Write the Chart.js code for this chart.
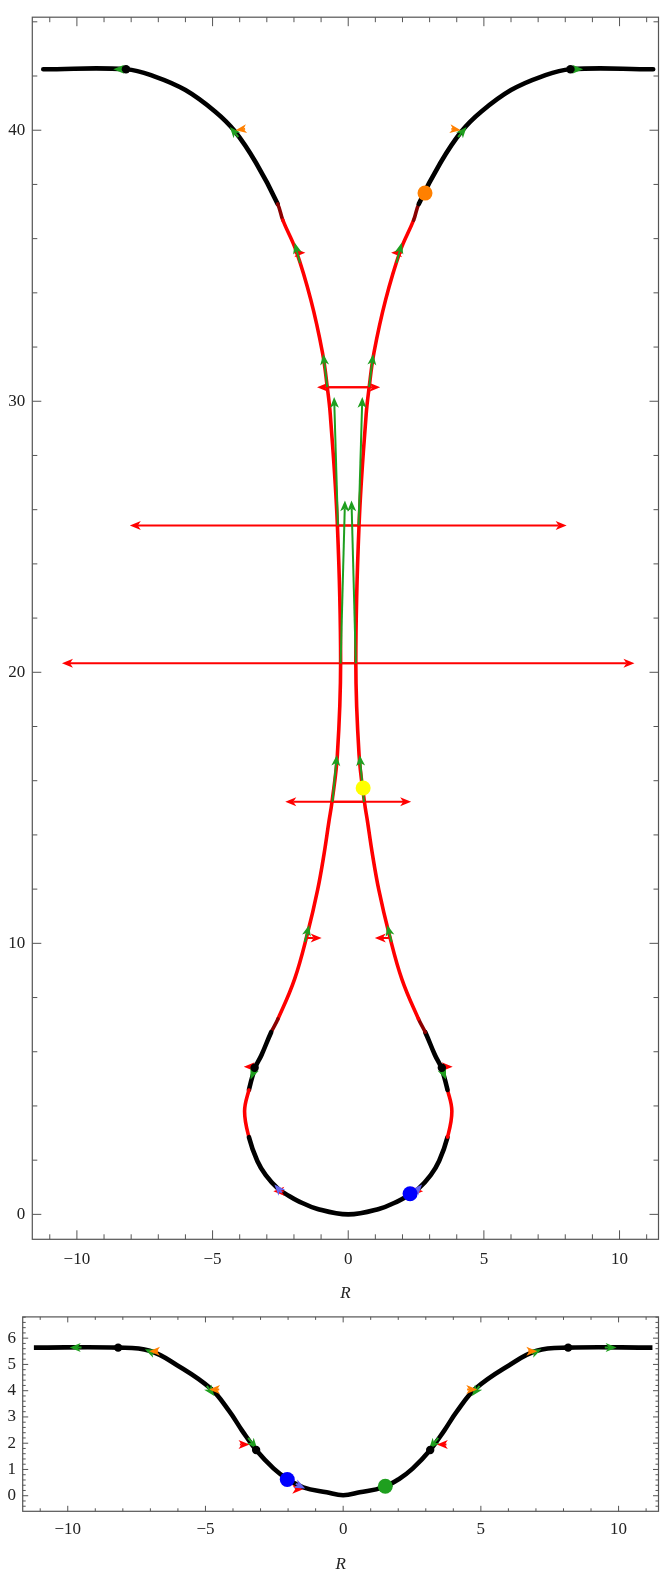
<!DOCTYPE html>
<html><head><meta charset="utf-8">
<script src="https://cdn.jsdelivr.net/npm/chart.js@4.4.1/dist/chart.umd.min.js"></script>
<style>
html,body{margin:0;padding:0;background:#fff;}
body{width:666px;height:1579px;position:relative;overflow:hidden;}
canvas{position:absolute;left:0;}
#c1{top:0;} #c2{top:1300px;}
</style></head><body>
<canvas id="c1" width="666" height="1310"></canvas>
<canvas id="c2" width="666" height="279"></canvas>
<script>
// ---------- data: top chart ----------
const topCurveX = [-11.24,-8.19,-7.1,-6.0,-4.91,-4.18,-3.4,-2.6,-2.41,-1.92,-1.38,-0.95,-0.77,-0.66,-0.40,-0.28,-0.40,-0.6,-0.71,-0.89,-1.13,-1.5,-1.98,-2.59,-2.84,-3.2,-3.43,-3.66,-3.82,-3.66,-3.35,-3.04,-2.58,-2.25,-1.86,-1.13,0,
  1.13,1.86,2.25,2.58,3.04,3.35,3.66,3.82,3.66,3.43,3.2,2.84,2.59,1.98,1.5,1.13,0.89,0.71,0.6,0.40,0.28,0.40,0.66,0.77,0.95,1.38,1.92,2.41,2.6,3.4,4.18,4.91,6.0,7.1,8.19,11.24];
const topCurveY = [42.25,42.25,41.97,41.48,40.69,39.96,38.8,37.28,36.68,35.55,33.75,31.8,30.5,29.5,25.45,20.35,16.95,15.2,14.5,13.3,11.96,10.37,8.67,7.21,6.72,5.87,5.41,4.59,3.8,2.85,1.97,1.45,0.94,0.72,0.5,0.2,0,
  0.2,0.5,0.72,0.94,1.45,1.97,2.85,3.8,4.59,5.41,5.87,6.72,7.21,8.67,10.37,11.96,13.3,14.5,15.2,16.95,20.35,25.45,29.5,30.5,31.8,33.75,35.55,36.68,37.28,38.8,39.96,40.69,41.48,41.97,42.25,42.25];
const topXTicks = [-10,-5,0,5,10];
const topYTicks = [0,10,20,30,40];
const topBlackDots = [[-8.19,42.25],[8.19,42.25],[-3.45,5.41],[3.45,5.41]];
const topOrangeDots = [[2.83,37.68]];
const topYellowDots = [[0.55,15.73]];
const topBlueDots = [[2.28,0.76]];
// arrows: [x1, y1, x2(tip), y2(tip)]
const topGreenArrows = [
  [-8.19,42.25,-8.66,42.25],[8.19,42.25,8.66,42.25],
  [-4.05,39.75,-4.36,40.12],[4.05,39.75,4.36,40.12],
  [-1.78,35.1,-1.97,35.85],[1.78,35.1,1.97,35.85],
  [-0.77,30.52,-0.92,31.74],[0.77,30.52,0.92,31.74],
  [-0.38,25.42,-0.52,30.16],[0.38,25.42,0.52,30.16],
  [-0.28,20.33,-0.12,26.34],[0.28,20.33,0.12,26.34],
  [-0.58,15.22,-0.42,16.95],[0.58,15.22,0.42,16.95],
  [-1.6,10.05,-1.44,10.68],[1.6,10.05,1.44,10.68],
  [-3.43,5.41,-3.6,4.98],[3.43,5.41,3.6,4.98]];
const topRedArrows = [
  [-1.98,35.48,-1.58,35.48],[1.98,35.48,1.58,35.48],
  [-0.77,30.52,1.18,30.52],[0.77,30.52,-1.15,30.52],
  [-0.38,25.42,8.05,25.42],[0.38,25.42,-8.05,25.42],
  [-0.28,20.33,10.55,20.33],[0.28,20.33,-10.55,20.33],
  [-0.58,15.22,2.32,15.22],[0.58,15.22,-2.32,15.22],
  [-1.5,10.2,-0.98,10.2],[1.5,10.2,0.98,10.2],
  [-3.4,5.45,-3.85,5.45],[3.4,5.45,3.85,5.45],
  [-2.38,0.85,-2.76,0.85],[2.38,0.85,2.76,0.85]];
const topOrangeArrows = [[-3.8,40.05,-4.15,40.0],[3.8,40.05,4.15,40.0]];
const topSlateArrows = [[-2.45,0.8,-2.72,1.1],[2.45,0.8,2.72,1.1]];

// ---------- data: bottom chart ----------
const botCurveX = [-11.23,-8.17,-7.03,-6.03,-4.81,-4.13,-3.67,-3.16,-2.52,-2.02,-1.45,-0.6,0,0.6,1.45,2.02,2.52,3.16,3.67,4.13,4.81,6.03,7.03,8.17,11.23];
const botCurveY = [5.64,5.64,5.52,4.97,4.08,3.21,2.48,1.74,1.03,0.63,0.32,0.13,0.02,0.13,0.32,0.63,1.03,1.74,2.48,3.21,4.08,4.97,5.52,5.64,5.64];
const botXTicks = [-10,-5,0,5,10];
const botYTicks = [0,1,2,3,4,5,6];
const botBlackDots = [[-8.17,5.64],[8.17,5.64],[-3.16,1.74],[3.16,1.74]];
const botBlueDots = [[-2.03,0.62]];
const botGreenDots = [[1.53,0.36]];
const botGreenArrows = [
  [-9.5,5.64,-9.93,5.64],[9.5,5.64,9.93,5.64],
  [-6.85,5.42,-7.2,5.58],[6.85,5.42,7.2,5.58],
  [-4.95,4.18,-4.68,3.8],[4.95,4.18,4.68,3.8],
  [-3.45,2.2,-3.12,1.78],[3.45,2.2,3.12,1.78]];
const botOrangeArrows = [[-6.72,5.5,-7.05,5.5],[6.72,5.5,7.05,5.5],[-4.5,4.05,-4.87,4.05],[4.5,4.05,4.87,4.05]];
const botRedArrows = [[-3.75,1.95,-3.4,1.95],[3.75,1.95,3.4,1.95],[-1.75,0.25,-1.45,0.25]];
const botSlateArrows = [[-1.72,0.45,-1.38,0.28]];

// ---------- styles ----------
const GREEN = '#1f9f1f', RED = '#ff0000', ORANGE = '#ff8000', SLATE = '#6464f0', DARKRED = '#8b0000';
const FONT = "'Liberation Serif','Times New Roman',serif";
const pts = (xs, ys) => xs.map((x, i) => ({x, y: ys[i]}));
const pairPts = arr => arr.map(p => ({x: p[0], y: p[1]}));
const fmt = v => v < 0 ? '\u2212' + Math.abs(v) : String(v);

function drawArrow(ctx, xs, ys, a, color, lw) {
  const x1 = xs.getPixelForValue(a[0]), y1 = ys.getPixelForValue(a[1]);
  const x2 = xs.getPixelForValue(a[2]), y2 = ys.getPixelForValue(a[3]);
  const ang = Math.atan2(y2 - y1, x2 - x1);
  const c = Math.cos(ang), s = Math.sin(ang);
  const L = 11, W = 4.5, N = 3;
  const d = Math.hypot(x2 - x1, y2 - y1);
  ctx.strokeStyle = color; ctx.fillStyle = color; ctx.lineWidth = lw;
  if (d > L - N) {
    ctx.beginPath(); ctx.moveTo(x1, y1);
    ctx.lineTo(x2 - c * (L - N), y2 - s * (L - N)); ctx.stroke();
  }
  ctx.beginPath();
  ctx.moveTo(x2, y2);
  ctx.lineTo(x2 - c * L - s * W, y2 - s * L + c * W);
  ctx.lineTo(x2 - c * (L - N), y2 - s * (L - N));
  ctx.lineTo(x2 - c * L + s * W, y2 - s * L - c * W);
  ctx.closePath(); ctx.fill();
}

function arrowPlugin(sets, curveIndex) {
  return {
    id: 'arrows',
    afterDatasetDraw(chart, args) {
      if (args.index !== curveIndex) return;
      const {ctx, chartArea: a, scales: {x, y}} = chart;
      ctx.save();
      ctx.beginPath(); ctx.rect(a.left, a.top, a.right - a.left, a.bottom - a.top); ctx.clip();
      ctx.lineCap = 'butt';
      sets.forEach(st => st.list.forEach(ar => drawArrow(ctx, x, y, ar, st.color, st.lw)));
      ctx.restore();
    }
  };
}

function framePlugin(cfg) {
  return {
    id: 'frame',
    afterDraw(chart) {
      const {ctx, chartArea: a, scales: {x, y}} = chart;
      ctx.save();
      ctx.strokeStyle = '#555'; ctx.lineWidth = 1.2;
      ctx.strokeRect(a.left, a.top, a.right - a.left, a.bottom - a.top);
      ctx.lineWidth = 1;
      const isMajor = (v, m) => Math.abs(v / m - Math.round(v / m)) < 1e-6;
      for (let v = Math.ceil(x.min / cfg.xMinor) * cfg.xMinor; v <= x.max + 1e-9; v += cfg.xMinor) {
        const vv = Math.round(v * 1000) / 1000;
        const px = x.getPixelForValue(vv);
        const len = isMajor(vv, cfg.xMajor) ? cfg.xMajLen : cfg.xMinLen;
        ctx.beginPath();
        ctx.moveTo(px, a.bottom); ctx.lineTo(px, a.bottom - len);
        ctx.moveTo(px, a.top); ctx.lineTo(px, a.top + len);
        ctx.stroke();
      }
      for (let v = Math.ceil(y.min / cfg.yMinor) * cfg.yMinor; v <= y.max + 1e-9; v += cfg.yMinor) {
        const vv = Math.round(v * 1000) / 1000;
        const py = y.getPixelForValue(vv);
        const len = isMajor(vv, cfg.yMajor) ? cfg.yMajLen : cfg.yMinLen;
        ctx.beginPath();
        ctx.moveTo(a.left, py); ctx.lineTo(a.left + len, py);
        ctx.moveTo(a.right, py); ctx.lineTo(a.right - len, py);
        ctx.stroke();
      }
      ctx.restore();
    }
  };
}

function topSegColor(ctx) {
  const m = (ctx.p0.parsed.y + ctx.p1.parsed.y) / 2;
  if ((m > 36.68 && m < 37.28) || (m > 6.72 && m < 7.21)) return DARKRED;
  if ((m > 7.21 && m < 36.68) || (m > 2.85 && m < 4.59)) return RED;
  return '#000';
}
function topSegWidth(ctx) {
  return topSegColor(ctx) === '#000' ? 4.6 : 3.6;
}

function dotSet(arr, color, r) {
  return {data: pairPts(arr), showLine: false, pointRadius: r, pointHoverRadius: r,
    backgroundColor: color, borderWidth: 0, pointBorderWidth: 0};
}

function axes(cfg) {
  const tickFont = {family: FONT, size: 17};
  return {
    x: {type: 'linear', min: cfg.xmin, max: cfg.xmax, bounds: 'data',
      grid: {display: false, drawTicks: false}, border: {display: false},
      afterBuildTicks: s => { s.ticks = cfg.xTicks.map(v => ({value: v})); },
      afterFit: s => { s.height = cfg.xH; },
      ticks: {font: tickFont, color: '#222', padding: cfg.xPad, maxRotation: 0, autoSkip: false, callback: fmt},
      title: {display: true, text: 'R', font: {family: FONT, size: 17, style: 'italic'}, color: '#222',
        padding: {top: 0, bottom: cfg.titlePad}}},
    y: {type: 'linear', min: cfg.ymin, max: cfg.ymax, bounds: 'data',
      grid: {display: false, drawTicks: false}, border: {display: false},
      afterBuildTicks: s => { s.ticks = cfg.yTicks.map(v => ({value: v})); },
      afterFit: s => { s.width = cfg.yW; },
      ticks: {font: tickFont, color: '#222', padding: cfg.yPad, autoSkip: false, callback: fmt}}
  };
}

// ---------- top chart ----------
const topDatasets = [
  dotSet(topOrangeDots, ORANGE, 7.5),
  dotSet(topYellowDots, '#ffff00', 7.5),
  dotSet(topBlueDots, '#0000ff', 7.5),
  dotSet(topBlackDots, '#000', 4.2),
  {data: pts(topCurveX, topCurveY), showLine: true, pointRadius: 0, pointHoverRadius: 0,
    borderColor: '#000', borderWidth: 4.6, tension: 0.4, fill: false,
    borderJoinStyle: 'round', borderCapStyle: 'round',
    segment: {borderColor: topSegColor, borderWidth: topSegWidth}}
];
new Chart(document.getElementById('c1'), {
  type: 'scatter',
  data: {datasets: topDatasets},
  options: {
    responsive: false, animation: false, devicePixelRatio: 1,
    layout: {padding: {top: 4.7, right: 2, left: 0, bottom: 0}},
    plugins: {legend: {display: false}, tooltip: {enabled: false}},
    scales: axes({xmin: -11.644, xmax: 11.436, ymin: -0.92, ymax: 44.17,
      xTicks: topXTicks, yTicks: topYTicks, xH: 70.7, yW: 32.3, xPad: 9.8, yPad: 7, titlePad: 6.5})
  },
  plugins: [
    arrowPlugin([
      {list: topRedArrows, color: RED, lw: 2},
      {list: topGreenArrows, color: GREEN, lw: 2},
      {list: topOrangeArrows, color: ORANGE, lw: 2},
      {list: topSlateArrows, color: SLATE, lw: 2}
    ], 4),
    framePlugin({xMinor: 1, xMajor: 5, yMinor: 2, yMajor: 10, xMajLen: 9, xMinLen: 5, yMajLen: 9, yMinLen: 5})
  ]
});

// ---------- bottom chart ----------
const botDatasets = [
  dotSet(botBlueDots, '#0000ff', 7.5),
  dotSet(botGreenDots, '#1f9f1f', 7.5),
  dotSet(botBlackDots, '#000', 4.2),
  {data: pts(botCurveX, botCurveY), showLine: true, pointRadius: 0, pointHoverRadius: 0,
    borderColor: '#000', borderWidth: 4.6, tension: 0.4, fill: false,
    borderJoinStyle: 'round'}
];
new Chart(document.getElementById('c2'), {
  type: 'scatter',
  data: {datasets: botDatasets},
  options: {
    responsive: false, animation: false, devicePixelRatio: 1,
    layout: {padding: {top: 7.7, right: 1, left: 0, bottom: 0}},
    plugins: {legend: {display: false}, tooltip: {enabled: false}},
    scales: axes({xmin: -11.636, xmax: 11.45, ymin: -0.593, ymax: 6.81,
      xTicks: botXTicks, yTicks: botYTicks, xH: 67.7, yW: 22.7, xPad: 8.5, yPad: 6.7, titlePad: 3.8})
  },
  plugins: [
    arrowPlugin([
      {list: botRedArrows, color: RED, lw: 2},
      {list: botGreenArrows, color: GREEN, lw: 2},
      {list: botOrangeArrows, color: ORANGE, lw: 2},
      {list: botSlateArrows, color: SLATE, lw: 2}
    ], 3),
    framePlugin({xMinor: 1, xMajor: 5, yMinor: 0.2, yMajor: 1, xMajLen: 5.5, xMinLen: 3, yMajLen: 5.5, yMinLen: 3})
  ]
});
</script></body></html>
